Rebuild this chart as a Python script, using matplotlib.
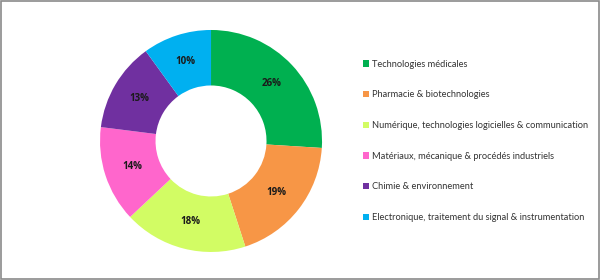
import matplotlib
matplotlib.use("Agg")
import matplotlib.pyplot as plt
from matplotlib.patches import Rectangle

categories = [
    "Technologies médicales",
    "Pharmacie & biotechnologies",
    "Numérique, technologies logicielles & communication",
    "Matériaux, mécanique & procédés industriels",
    "Chimie & environnement",
    "Electronique, traitement du signal & instrumentation",
]
shares = [26, 19, 18, 14, 13, 10]
colors = ["#00B050", "#F79646", "#D2FC64", "#FF66CC", "#7030A0", "#00B0F0"]

plt.rcParams["font.family"] = ["Lato", "DejaVu Sans"]

fig = plt.figure(figsize=(6, 2.8), dpi=100)
ax = fig.add_axes([0.1667, 0.1, 0.37, 0.793])

wedges, _, autotexts = ax.pie(
    shares, colors=colors, startangle=90, counterclock=False,
    autopct="%d%%", pctdistance=0.75,
    wedgeprops=dict(width=0.5, edgecolor="none"),
    textprops=dict(fontsize=7, fontweight="bold", color="#1a1a1a",
                   family=["Open Sans", "DejaVu Sans"]),
)
ax.set_xlim(-1, 1)
ax.set_ylim(-1, 1)
ax.set_aspect("equal")

fig.legend(wedges, categories, loc="upper left", bbox_to_anchor=(0.598, 0.80),
           frameon=False, fontsize=6.7, handlelength=0.65, handleheight=0.65,
           handletextpad=0.4, labelspacing=2.33, borderaxespad=0,
           labelcolor="#333333")

fig.patches.append(Rectangle((0.001, 0.002), 0.997, 0.995, transform=fig.transFigure,
                             fill=False, edgecolor="#8a8a8a", linewidth=1.2))

fig.savefig("out.png", dpi=100)
